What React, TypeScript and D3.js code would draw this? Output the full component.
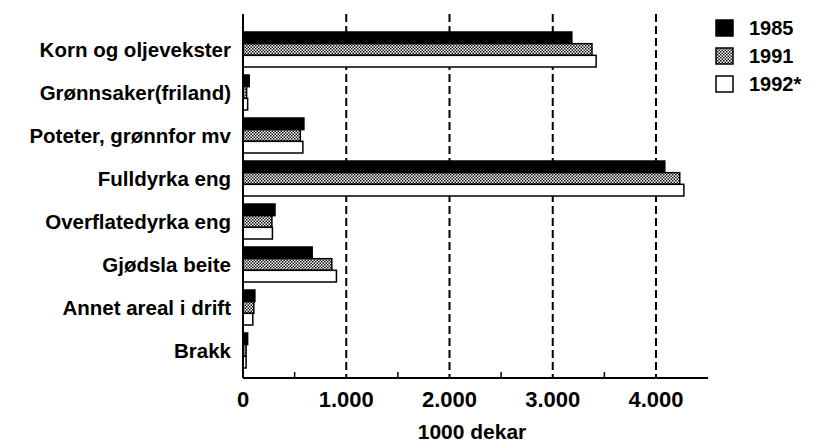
import React, { useEffect, useRef } from 'react'
import * as d3 from 'd3'

const categories = [
  'Korn og oljevekster',
  'Grønnsaker(friland)',
  'Poteter, grønnfor mv',
  'Fulldyrka eng',
  'Overflatedyrka eng',
  'Gjødsla beite',
  'Annet areal i drift',
  'Brakk',
]
const years = ['1985', '1991', '1992*']
const v1985 = [3185, 60, 590, 4085, 310, 670, 115, 45]
const v1991 = [3380, 35, 555, 4230, 280, 860, 105, 30]
const v1992 = [3420, 45, 580, 4270, 285, 905, 95, 30]
const xTicks = [0, 1000, 2000, 3000, 4000]
const tickLabels = ['0', '1.000', '2.000', '3.000', '4.000']

const FONT = '"Liberation Sans", Arial, sans-serif'

const App: React.FC = () => {
  const ref = useRef<SVGSVGElement>(null)

  useEffect(() => {
    const svg = d3.select(ref.current)
    svg.selectAll('*').remove()

    const left = 243
    const top = 14
    const bottom = 378
    const x = d3.scaleLinear().domain([0, 4000]).range([left, 656])
    const xEnd = 708
    const y = d3
      .scaleBand()
      .domain(categories)
      .range([32, 368])
      .paddingInner(0.186)
      .paddingOuter(0)
    const sub = d3.scaleBand().domain(years).range([0, y.bandwidth()])

    const defs = svg.append('defs')
    const pat = defs
      .append('pattern')
      .attr('id', 'hatch')
      .attr('patternUnits', 'userSpaceOnUse')
      .attr('width', 3)
      .attr('height', 3)
    pat.append('rect').attr('width', 3).attr('height', 3).attr('fill', '#fff')
    pat.append('rect').attr('width', 1.5).attr('height', 1.5).attr('fill', '#111')
    pat.append('rect').attr('x', 1.5).attr('y', 1.5).attr('width', 1.5).attr('height', 1.5).attr('fill', '#111')

    const fills = ['#000', 'url(#hatch)', '#fff']

    // gridlines
    svg
      .append('g')
      .selectAll('line')
      .data(xTicks.slice(1))
      .enter()
      .append('line')
      .attr('x1', (d) => x(d))
      .attr('x2', (d) => x(d))
      .attr('y1', top)
      .attr('y2', bottom)
      .attr('stroke', '#000')
      .attr('stroke-width', 2)
      .attr('stroke-dasharray', '8,4')

    // bars
    const series = [v1985, v1991, v1992]
    series.forEach((vals, si) => {
      svg
        .append('g')
        .selectAll('rect')
        .data(vals)
        .enter()
        .append('rect')
        .attr('x', left)
        .attr('y', (_, i) => (y(categories[i]) as number) + (sub(years[si]) as number))
        .attr('width', (d) => x(d) - left)
        .attr('height', sub.bandwidth())
        .attr('fill', fills[si])
        .attr('stroke', '#000')
        .attr('stroke-width', 1.5)
    })

    // axes
    svg
      .append('line')
      .attr('x1', left)
      .attr('x2', left)
      .attr('y1', top)
      .attr('y2', bottom)
      .attr('stroke', '#000')
      .attr('stroke-width', 2)
    svg
      .append('line')
      .attr('x1', left)
      .attr('x2', xEnd)
      .attr('y1', bottom)
      .attr('y2', bottom)
      .attr('stroke', '#000')
      .attr('stroke-width', 2)

    const minor = d3.range(500, 4500, 1000)
    svg
      .append('g')
      .selectAll('line')
      .data(minor)
      .enter()
      .append('line')
      .attr('x1', (d) => x(d))
      .attr('x2', (d) => x(d))
      .attr('y1', bottom)
      .attr('y2', bottom - 6)
      .attr('stroke', '#000')
      .attr('stroke-width', 1.5)

    svg
      .append('g')
      .selectAll('text')
      .data(xTicks)
      .enter()
      .append('text')
      .attr('x', (d) => x(d))
      .attr('y', 407)
      .attr('text-anchor', 'middle')
      .attr('font-family', FONT)
      .attr('font-weight', 'bold')
      .attr('font-size', 22)
      .text((_, i) => tickLabels[i])

    svg
      .append('text')
      .attr('x', 472)
      .attr('y', 439)
      .attr('text-anchor', 'middle')
      .attr('font-family', FONT)
      .attr('font-weight', 'bold')
      .attr('font-size', 21)
      .text('1000 dekar')

    // category labels
    svg
      .append('g')
      .selectAll('text')
      .data(categories)
      .enter()
      .append('text')
      .attr('x', 231)
      .attr('y', (d) => (y(d) as number) + y.bandwidth() / 2)
      .attr('dy', '0.35em')
      .attr('text-anchor', 'end')
      .attr('font-family', FONT)
      .attr('font-weight', 'bold')
      .attr('font-size', 20.5)
      .text((d) => d)

    // legend
    const lg = svg.append('g')
    years.forEach((yr, i) => {
      const cy = 28 + i * 28
      lg.append('rect')
        .attr('x', 716)
        .attr('y', cy - 8)
        .attr('width', 17)
        .attr('height', 16)
        .attr('fill', fills[i])
        .attr('stroke', '#000')
        .attr('stroke-width', 1.5)
      lg.append('text')
        .attr('x', 749)
        .attr('y', cy)
        .attr('dy', '0.35em')
        .attr('font-family', FONT)
        .attr('font-weight', 'bold')
        .attr('font-size', 20)
        .text(yr)
    })
  }, [])

  return (
    <svg
      ref={ref}
      width={814}
      height={443}
      style={{ position: 'absolute', left: 0, top: 0, background: '#fff' }}
    />
  )
}

export default App
